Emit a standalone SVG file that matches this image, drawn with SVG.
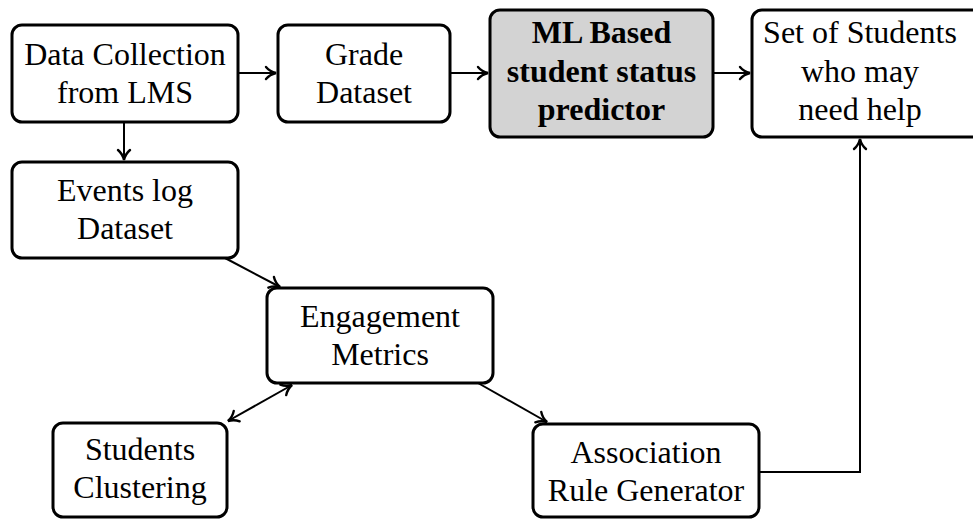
<svg xmlns="http://www.w3.org/2000/svg" width="973" height="519" viewBox="0 0 973 519">
  <style>
    .box { fill: #ffffff; stroke: #000000; stroke-width: 3; }
    .hl { fill: #d3d3d3; }
    .lbl { font-family: 'Liberation Serif', serif; font-size: 32px; fill: #000000; text-anchor: middle; }
    .bold { font-weight: bold; }
    .edge { fill: none; stroke: #000000; stroke-width: 2; }
  </style>
  <defs>
    <marker id="tip" markerUnits="userSpaceOnUse" viewBox="-12 -8 14 16" markerWidth="14" markerHeight="16" refX="0" refY="0" orient="auto-start-reverse" overflow="visible">
      <path d="M -10,-6 C -7,-2.4 -2.5,-0.6 0,0 C -2.5,0.6 -7,2.4 -10,6" fill="none" stroke="#000000" stroke-width="2.4" stroke-linecap="round"/>
    </marker>
  </defs>

  <g id="connectors">
    <path class="edge" d="M 238,73 H 276" marker-end="url(#tip)"/>
    <path class="edge" d="M 450,73 H 488" marker-end="url(#tip)"/>
    <path class="edge" d="M 713,73 H 750" marker-end="url(#tip)"/>
    <path class="edge" d="M 124,122 V 160" marker-end="url(#tip)"/>
    <path class="edge" d="M 225,258 L 280,287" marker-end="url(#tip)"/>
    <path class="edge" d="M 228,421 L 292,385" marker-start="url(#tip)" marker-end="url(#tip)"/>
    <path class="edge" d="M 478,383 L 547,422" marker-end="url(#tip)"/>
    <path class="edge" d="M 759,472 H 860 V 139" marker-end="url(#tip)"/>
  </g>

  <g id="data-collection">
    <rect class="box" x="12" y="25" width="226" height="97" rx="10"/>
    <text class="lbl" x="125" y="65">Data Collection</text>
    <text class="lbl" x="125" y="103">from LMS</text>
  </g>

  <g id="grade-dataset">
    <rect class="box" x="278" y="25" width="172" height="97" rx="10"/>
    <text class="lbl" x="364" y="65">Grade</text>
    <text class="lbl" x="364" y="103">Dataset</text>
  </g>

  <g id="predictor">
    <rect class="box hl" x="490" y="10" width="223" height="127" rx="10"/>
    <text class="lbl bold" x="601.5" y="43">ML Based</text>
    <text class="lbl bold" x="601.5" y="82">student status</text>
    <text class="lbl bold" x="601.5" y="120">predictor</text>
  </g>

  <g id="students-need-help">
    <rect class="box" x="752" y="10" width="240" height="127" rx="10"/>
    <text class="lbl" x="860" y="43">Set of Students</text>
    <text class="lbl" x="860" y="82">who may</text>
    <text class="lbl" x="860" y="120">need help</text>
  </g>

  <g id="events-log">
    <rect class="box" x="12" y="162" width="226" height="96" rx="10"/>
    <text class="lbl" x="125" y="201">Events log</text>
    <text class="lbl" x="125" y="239">Dataset</text>
  </g>

  <g id="engagement">
    <rect class="box" x="267" y="288" width="226" height="95" rx="10"/>
    <text class="lbl" x="380" y="327">Engagement</text>
    <text class="lbl" x="380" y="365">Metrics</text>
  </g>

  <g id="clustering">
    <rect class="box" x="53" y="423" width="174" height="94" rx="10"/>
    <text class="lbl" x="140" y="460">Students</text>
    <text class="lbl" x="140" y="498">Clustering</text>
  </g>

  <g id="association">
    <rect class="box" x="533" y="424" width="226" height="93" rx="10"/>
    <text class="lbl" x="646" y="463">Association</text>
    <text class="lbl" x="646" y="501">Rule Generator</text>
  </g>
</svg>
